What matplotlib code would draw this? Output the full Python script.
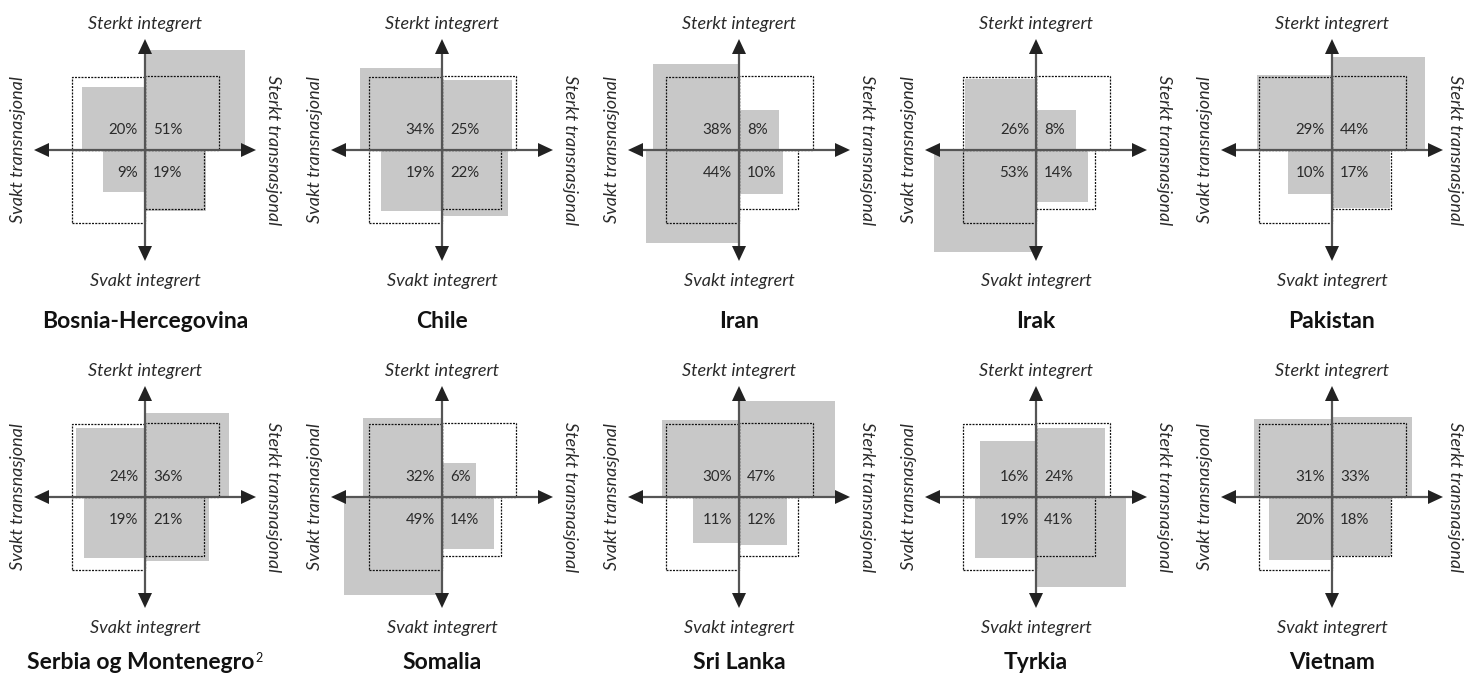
import numpy as np
import matplotlib
matplotlib.use("Agg")
import matplotlib.pyplot as plt
from matplotlib.patches import Rectangle, Polygon

# ---- data ----
countries = ["Bosnia-Hercegovina", "Chile", "Iran", "Irak", "Pakistan",
             "Serbia og Montenegro", "Somalia", "Sri Lanka", "Tyrkia", "Vietnam"]
footnotes = ["", "", "", "", "", "2", "", "", "", ""]
# quadrant shares (%)
top_left = [20, 34, 38, 26, 29, 24, 32, 30, 16, 31]      # sterkt integrert / svakt transnasjonal
top_right = [51, 25, 8, 8, 44, 36, 6, 47, 24, 33]        # sterkt integrert / sterkt transnasjonal
bottom_left = [9, 19, 44, 53, 10, 19, 49, 11, 19, 20]    # svakt integrert / svakt transnasjonal
bottom_right = [19, 22, 10, 14, 17, 21, 14, 12, 41, 18]  # svakt integrert / sterkt transnasjonal
# reference distribution shown as dotted squares (TL, TR, BL, BR)
reference = [27, 28, 27, 18]

lbl_top = "Sterkt integrert"
lbl_bottom = "Svakt integrert"
lbl_left = "Svakt transnasjonal"
lbl_right = "Sterkt transnasjonal"

# ---- style ----
W, H = 1464, 681
PX = 14.0  # pixels per unit (unit = sqrt of percent)
FONT = "Lato"
GRAY = "#c8c8c8"
AXC = "#555555"
HEADC = "#222222"
TXT = "#2a2a2a"

fig = plt.figure(figsize=(W / 100, H / 100), dpi=100)
fig.patch.set_facecolor("white")

col_x = [145, 442, 739, 1036, 1332]
row_y = [150, 497]
title_off = [171, 165]
right_lbl_off = [128, 128, 128, 128, 123]

half_w = 148
top_px, bot_px = 145, 190

for i, name in enumerate(countries):
    r, c = divmod(i, 5)
    cx, cy = col_x[c], row_y[r]
    left = (cx - half_w) / W
    bottom = 1 - (cy + bot_px) / H
    ax = fig.add_axes([left, bottom, 2 * half_w / W, (top_px + bot_px) / H])
    ax.set_xlim(-half_w / PX, half_w / PX)
    ax.set_ylim(-bot_px / PX, top_px / PX)
    ax.axis("off")

    vals = [top_left[i], top_right[i], bottom_left[i], bottom_right[i]]
    signs = [(-1, 1), (1, 1), (-1, -1), (1, -1)]
    for (sx, sy), v, ref in zip(signs, vals, reference):
        s = np.sqrt(v)
        x0 = -s if sx < 0 else 0
        y0 = -s if sy < 0 else 0
        ax.add_patch(Rectangle((x0, y0), s, s, facecolor=GRAY, edgecolor="none", zorder=1))
        rs = np.sqrt(ref)
        rx0 = -rs if sx < 0 else 0
        ry0 = -rs if sy < 0 else 0
        ax.add_patch(Rectangle((rx0, ry0), rs, rs, facecolor="none", edgecolor="#111111",
                               lw=0.9, linestyle=(0, (1.6, 1.0)), zorder=2))

    # axes arrows
    L = 111 / PX
    hl = 15 / PX
    hw = 7 / PX
    ax.plot([-L + hl * 0.5, L - hl * 0.5], [0, 0], color=AXC, lw=1.6, zorder=3)
    ax.plot([0, 0], [-L + hl * 0.5, L - hl * 0.5], color=AXC, lw=1.6, zorder=3)
    heads = [
        [(L, 0), (L - hl, hw), (L - hl, -hw)],
        [(-L, 0), (-L + hl, hw), (-L + hl, -hw)],
        [(0, L), (hw, L - hl), (-hw, L - hl)],
        [(0, -L), (hw, -L + hl), (-hw, -L + hl)],
    ]
    for h in heads:
        ax.add_patch(Polygon(h, closed=True, facecolor=HEADC, edgecolor="none", zorder=4))

    # percentage labels
    lx, rx = -7 / PX, 8 / PX
    ty, by = 20 / PX, -23 / PX
    kw = dict(fontsize=10.8, family=FONT, color=TXT, va="center", zorder=5)
    ax.text(lx, ty, f"{top_left[i]}%", ha="right", **kw)
    ax.text(rx, ty, f"{top_right[i]}%", ha="left", **kw)
    ax.text(lx, by, f"{bottom_left[i]}%", ha="right", **kw)
    ax.text(rx, by, f"{bottom_right[i]}%", ha="left", **kw)

    # direction labels
    lk = dict(fontsize=13, family=FONT, style="italic", color=TXT, ha="center", va="center")
    ax.text(0, 126 / PX, lbl_top, **lk)
    ax.text(0, -131 / PX, lbl_bottom, **lk)
    ax.text(-127 / PX, 0, lbl_left, rotation=90, **lk)
    ax.text(right_lbl_off[c] / PX, 0, lbl_right, rotation=270, **lk)

    # country title
    shift = -4 / PX if footnotes[i] else 0
    t = ax.text(shift, -title_off[r] / PX, name, fontsize=16.5, family=FONT, weight="bold",
                color="#111111", ha="center", va="center")
    if footnotes[i]:
        ax.annotate(footnotes[i], xy=(1, 0.42), xycoords=t, xytext=(0.8, 0),
                    textcoords="offset points", fontsize=9, family=FONT,
                    color="#111111", ha="left", va="bottom")

fig.savefig("out.png", dpi=100, facecolor="white")
